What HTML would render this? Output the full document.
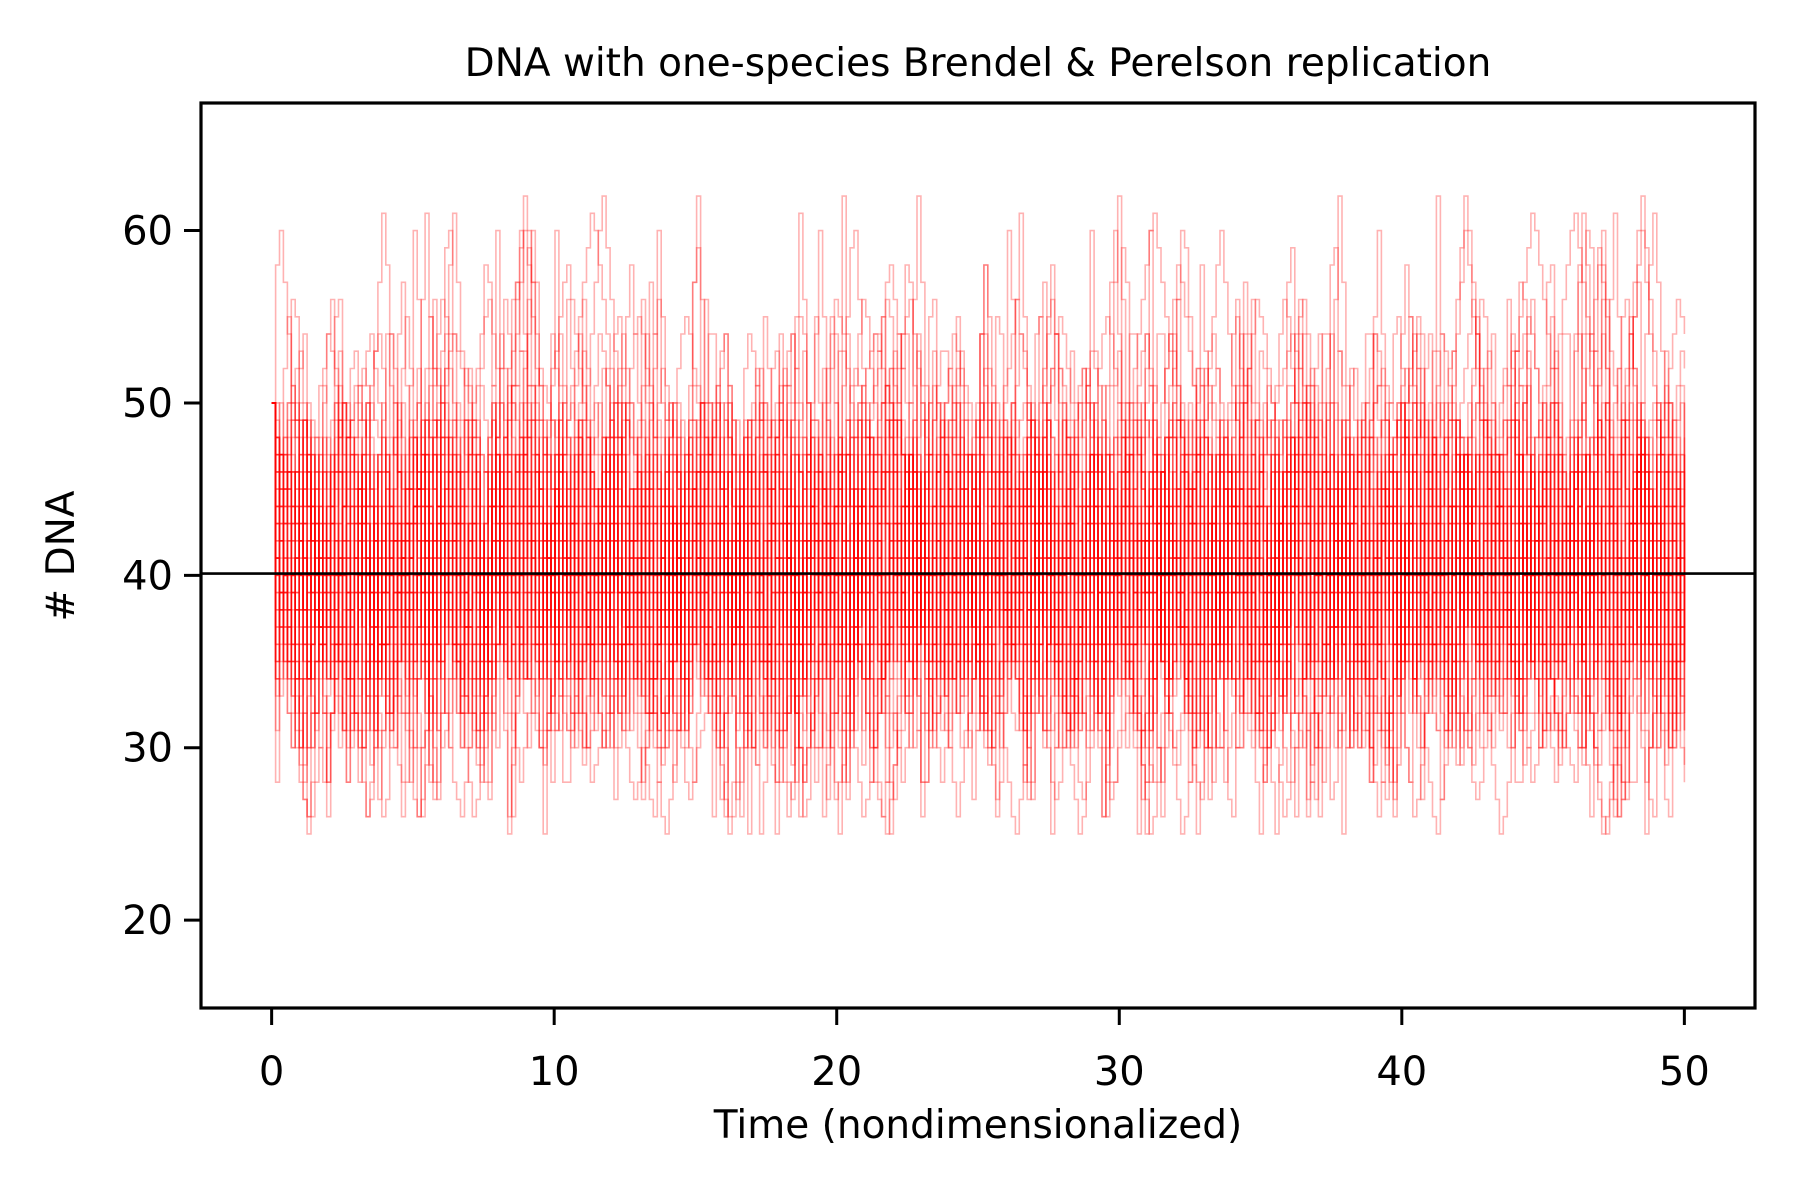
<!DOCTYPE html>
<html><head><meta charset="utf-8"><style>
html,body{margin:0;padding:0;background:#fff;}
svg{display:block;font-family:"DejaVu Sans","Liberation Sans",sans-serif;}
</style></head><body>
<svg id="chart" width="1800" height="1200" viewBox="0 0 1800 1200" xmlns="http://www.w3.org/2000/svg">
<rect width="1800" height="1200" fill="#fff"/>
<text x="978" y="76" font-size="39" text-anchor="middle">DNA with one-species Brendel &amp; Perelson replication</text>
<g id="traces"></g>
<g id="axes"></g>
<text x="978" y="1138" font-size="39" text-anchor="middle">Time (nondimensionalized)</text>
<text transform="translate(74,556) rotate(-90)" font-size="39" text-anchor="middle"># DNA</text>
</svg>
<script>
// Data: each string is a stochastic path; char index in ALPHA + 15 = DNA count
const ALPHA = "0123456789abcdefghijklmnopqrstuvwxyzABCDEFGHIJKLMN";
const traceStrings = [
"zxtrpqnomkmoqsurtqomnprtvwusqomkjlnprqsuwxvtrpnlmoqrtsqpnmkiklnprtuwvtrqomnpqsrpomoqsuvtsqpnljkmoprqtuwyxvtsqonmlnoprsqp",
"zvspnlkigjlnmoqpnlkjhikmoqsrtvusqpnmoqrtsqomkjlnopqsuvxzywusqponlmkjhgikmopqsrpnmlnprtvtrqomkjlmoqstuvtrpomkjiklnoprq",
"zwuwyBDCAywusqomprtvxwusrpnprtuwyADFEBzxvtrponlkmoqsuwvtrqoprtvwyxvtrpnmlkmoprtsqonmoqsuwxzBAywusrpnlkjlnprtv",
"zxvsqomkihfegikmoqsrpnljkmoqsuwvtrpnlkjhgfhjlnprtvusqomnprtvxwusqonlkmoqsrpnljhgikmoqsuwvtrpnmlnprqomkjlnp",
"zyxvtrpnprtvxzBDFHGECAywusqomkmoqsuwyxvtrpnmoqsuwvtrpnljkmoqsrpnlkmoprtvxzywusqomkjlnprtvwusqomnprtsqo",
"zurqpomnpqrstsrqponmlkjihjklmnopqrstuvwvutsrqponmlmnopqrstsrqponmlkjklmnopqrsrqpnmlkjihgfgijklnopqrstuvwxwvutsrqp",
"zyvspomlnprtuwusqonmoqrtsqpnmkjiklnprtvwxyzyxwvtsqpnmlkjlnpqsrqomlkjhgfhjlnoqstuvxwusqpnmlnprtvutrqonlkjlnp",
"zwtqnkjlnprtvwyADCAywusqponmlnprtvxzBDEDBzxvtrponmlmnprtuwvtsqpnljhfdfhjlnprqpnlkmoqsuwyzyxvtrpnlkmopqrs",
"zvrnkifdbdfhjlnprqomkjlnprtsqonmlkjhgikmoqsuwvtrpnlkjhgfhjlnprtsqomkiklnprtvusqomkjlnprtuwyxvtrpnljhgfhjlnp",
"zxusqponprtvwxyzxwutsrpomnprtvwyADGJHEBywtrpnmoqsuwxvtrqomkjlnprtuwvtsqpnmlnpqsuvwxvtsqpomnprtvxzyxwvtsqp",
"zysnkhgikmoqsuwvtrpnljhfdcbdfhjlnprtvusqomkjlmoqsuwyzxvtrpnljhgfhjlnprtsqomkjhgikmoqrtsqomljkmoqsrpnljk",
"zwsolkmoqsuvtsqpomnopqrtvwyxwvtsrqponmlkjkmnpqrstvwxyzABAzyxwvtsqpnmlkjihjklnpqrstuvwvutsrqponmlnpqrs",
"ztqpnmoprtvwusqpnljhgfhjlnprtvxzBDFEDBzxvtrpnljkmoqsuwvtrqomkjlnpqrtvwxzyxvtrpnlkjlnprtvwusqomljhjlnp",
"zxwvtsqponmlkjihgfedfhjlnprtuvwxyzyxwvutsrqponmlkjklmnoprstuvwvutsrqpomlkjihgfghjklmnoprstuvwxyzyxwv",
"zvtrpnlkmoqsuwyACEGIKJHFDBzxvtrpnljhfdbacegikmoqsuwyxvtrpnlkjlnprtvwusqomljhgikmoqsuwyABAzxvtrpn",
"zyxvusqpnmkjlnoqrtuwvtsqpnmkjhgfhjkmnpqstvwxzyxwutsqpomljhgfdcdfghjlmoprsuvxyzyxvusrqonmkjlmoprsuv",
"zuqmjhfdfhjlnprtvxwusqomkjlnprtvxzBDCAywusqomkihfdbacegikmoqsuwyxvtrpnljhjlnprtvxzxvtrpnlkjlnprt",
"zwvutsrqponmlmnopqrstuvwxyzABCDCBAzyxwvutsrqponmlkjihgfghijklmnopqrstuvwvutsrqponmlkjklmnopqrstu",
"zxvtrpomkjhgfegikmoqsuwyADGJLIFCzwtqnkhecbdfhjlnprtvxzywusqomkjlnprtvwusqomljhfdfhjlnprtvxwusq",
"zyvtqnkhfdbacegikmoqsuwyzxvtrpnlkjlnprtvxzBDFDBzxvtrpnljhfhjlnprtvwusqomkjlnprtuwvtrqomljhjlnp"
];
const xTickValues = [0,10,20,30,40,50];
const yTickValues = [20,30,40,50,60];
const xTickLabels = ["0","10","20","30","40","50"];
const yTickLabels = ["20","30","40","50","60"];
const meanValue = [40.1];
const startValue = [50];
const tMax = [50];
const traceCount = [56];
const pointsPerTrace = [360];
const strides = [1,2,3,1,2,1,3];

const L=201,R=1755,T=103,B=1008;
const XMIN=-2.5,XMAX=52.5,YMIN=14.9,YMAX=67.4;
function sx(v){return L+(v-XMIN)/(XMAX-XMIN)*(R-L);}
function sy(v){return B-(v-YMIN)/(YMAX-YMIN)*(B-T);}
const NS="http://www.w3.org/2000/svg";
const tg=document.getElementById('traces');
const clip=document.createElementNS(NS,'clipPath');clip.setAttribute('id','clipA');
const cr=document.createElementNS(NS,'rect');cr.setAttribute('x',L);cr.setAttribute('y',T);cr.setAttribute('width',R-L);cr.setAttribute('height',B-T);
clip.appendChild(cr);document.getElementById('chart').appendChild(clip);
tg.setAttribute('clip-path','url(#clipA)');
const seq=traceStrings.map(s=>s.slice(5)).join("");
const N=seq.length;
for(let k=0;k<traceCount[0];k++){
  const n=pointsPerTrace[0];
  const st=strides[k%strides.length];
  const off=(k*173)%N;
  const dir=(k%2)?-1:1;
  let d="M"+sx(0).toFixed(1)+","+sy(startValue[0]).toFixed(1);
  for(let i=1;i<n;i++){
    const idx=((off+dir*i*st)%N+N)%N;
    const v=15+ALPHA.indexOf(seq[idx]);
    d+="H"+sx(i/(n-1)*tMax[0]).toFixed(1)+"V"+sy(v).toFixed(1);
  }
  const p=document.createElementNS(NS,'path');
  p.setAttribute('d',d);p.setAttribute('fill','none');p.setAttribute('stroke','#ff0000');
  p.setAttribute('stroke-opacity','0.3');p.setAttribute('stroke-width','1.6');
  
  
  tg.appendChild(p);
}
const ax=document.getElementById('axes');
const ml=document.createElementNS(NS,'line');
ml.setAttribute('x1',L);ml.setAttribute('x2',R);ml.setAttribute('y1',sy(meanValue[0]));ml.setAttribute('y2',sy(meanValue[0]));
ml.setAttribute('stroke','#000');ml.setAttribute('stroke-width','2.6');


ax.appendChild(ml);
const fr=document.createElementNS(NS,'rect');
fr.setAttribute('x',L);fr.setAttribute('y',T);fr.setAttribute('width',R-L);fr.setAttribute('height',B-T);
fr.setAttribute('fill','none');fr.setAttribute('stroke','#000');fr.setAttribute('stroke-width','3.2');


ax.appendChild(fr);
xTickValues.forEach((v,i)=>{
  const x=sx(v);
  const tk=document.createElementNS(NS,'line');
  tk.setAttribute('x1',x);tk.setAttribute('x2',x);tk.setAttribute('y1',B);tk.setAttribute('y2',B+17);
  tk.setAttribute('stroke','#000');tk.setAttribute('stroke-width','3');
  
  
  ax.appendChild(tk);
  const tx=document.createElementNS(NS,'text');
  tx.setAttribute('x',x);tx.setAttribute('y',B+77);tx.setAttribute('font-size','40');tx.setAttribute('text-anchor','middle');
  tx.textContent=xTickLabels[i];
  
  
  ax.appendChild(tx);
});
yTickValues.forEach((v,i)=>{
  const y=sy(v);
  const tk=document.createElementNS(NS,'line');
  tk.setAttribute('x1',L-17);tk.setAttribute('x2',L);tk.setAttribute('y1',y);tk.setAttribute('y2',y);
  tk.setAttribute('stroke','#000');tk.setAttribute('stroke-width','3');
  
  
  ax.appendChild(tk);
  const tx=document.createElementNS(NS,'text');
  tx.setAttribute('x',L-28);tx.setAttribute('y',y+14);tx.setAttribute('font-size','40');tx.setAttribute('text-anchor','end');
  tx.textContent=yTickLabels[i];
  
  
  ax.appendChild(tx);
});
</script>
</body></html>
